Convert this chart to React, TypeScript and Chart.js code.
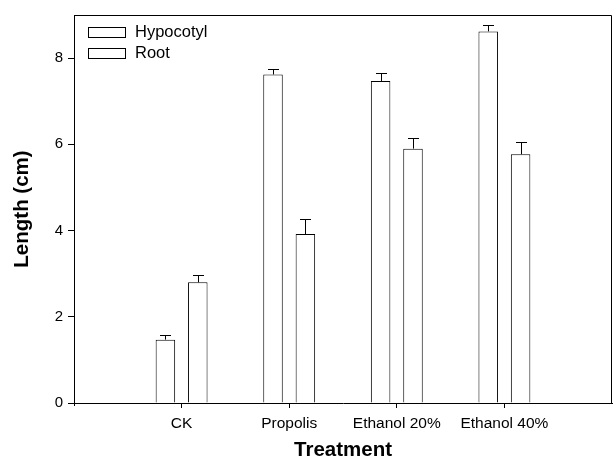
import React, { useEffect, useRef } from 'react';
import { Chart, registerables } from 'chart.js';

Chart.register(...registerables);

const categories = ['CK', 'Propolis', 'Ethanol 20%', 'Ethanol 40%'];
const seriesLabels = ['Hypocotyl', 'Root'];
const hypocotyl = [1.47, 7.62, 7.47, 8.62];
const hypocotylErr = [0.1, 0.12, 0.19, 0.15];
const root = [2.8, 3.92, 5.9, 5.77];
const rootErr = [0.18, 0.35, 0.25, 0.28];
const yTicks = [0, 2, 4, 6, 8];
const yMax = 9;

const FONT = 'Liberation Sans, Arial, Helvetica, sans-serif';

const pad = (arr: (number | null)[]) => [null, ...arr, null];

const frameAndErrors = {
  id: 'frameAndErrors',
  afterDatasetsDraw(chart: any) {
    const { ctx, scales } = chart;
    const y = scales.y;
    ctx.save();
    ctx.strokeStyle = '#000';
    ctx.lineWidth = 1;
    ctx.setLineDash([]);
    chart.data.datasets.forEach((ds: any, di: number) => {
      const meta = chart.getDatasetMeta(di);
      meta.data.forEach((el: any, i: number) => {
        const v = ds.data[i];
        const e = ds.errors[i];
        if (v == null || e == null) return;
        const x = Math.round(el.x) + 0.5;
        const yTop = Math.round(y.getPixelForValue(v + e)) + 0.5;
        const yBar = y.getPixelForValue(v);
        ctx.beginPath();
        ctx.moveTo(x, yBar);
        ctx.lineTo(x, yTop);
        ctx.moveTo(x - 5.5, yTop);
        ctx.lineTo(x + 5.5, yTop);
        ctx.stroke();
      });
    });
    ctx.restore();
  },
  afterDraw(chart: any) {
    const { ctx, chartArea, scales } = chart;
    const y = scales.y;
    ctx.save();
    ctx.setLineDash([]);
    ctx.lineCap = 'butt';
    ctx.lineJoin = 'miter';
    ctx.lineWidth = 1;
    ctx.strokeStyle = '#000';
    const l = Math.round(chartArea.left) + 0.5;
    const r = Math.round(chartArea.right) - 0.5;
    const t = Math.round(y.getPixelForValue(yMax)) + 0.5;
    const b = Math.round(y.getPixelForValue(0));
    // clear anything below the axis at the right end
    ctx.fillStyle = '#fff';
    ctx.fillRect(r - 3, b + 1, 20, 10);
    ctx.beginPath();
    ctx.moveTo(l, t);
    ctx.lineTo(r, t);
    ctx.lineTo(r, b);
    ctx.stroke();
    ctx.beginPath();
    ctx.moveTo(l, b);
    ctx.lineTo(l, b + 3);
    ctx.stroke();
    // legend
    ctx.font = `16.5px ${FONT}`;
    ctx.textBaseline = 'middle';
    ctx.textAlign = 'left';
    chart.data.datasets.forEach((ds: any, di: number) => {
      const bx = 88.5;
      const by = 27.5 + di * 21;
      ctx.fillStyle = '#fff';
      ctx.fillRect(bx, by, 37, 10);
      ctx.strokeStyle = '#000';
      ctx.strokeRect(bx, by, 37, 10);
      ctx.fillStyle = '#000';
      ctx.fillText(ds.label, 135, by + 5);
    });
    ctx.restore();
  },
};

export default function App() {
  const ref = useRef<HTMLCanvasElement | null>(null);
  useEffect(() => {
    if (!ref.current) return;
    const labels = ['', ...categories, ''];
    const chart = new Chart(ref.current, {
      type: 'bar',
      data: {
        labels,
        datasets: [
          {
            label: seriesLabels[0],
            data: pad(hypocotyl),
            errors: pad(hypocotylErr),
            backgroundColor: '#fff',
            borderColor: '#000',
            borderWidth: 1,
          } as any,
          {
            label: seriesLabels[1],
            data: pad(root),
            errors: pad(rootErr),
            backgroundColor: '#fff',
            borderColor: '#000',
            borderWidth: 1,
          } as any,
        ],
      },
      options: {
        responsive: false,
        animation: false,
        events: [],
        datasets: {
          bar: { categoryPercentage: 0.602, barPercentage: 0.602 },
        },
        layout: { padding: { top: 15, right: 2, left: 0, bottom: 0 } },
        plugins: {
          legend: { display: false },
          tooltip: { enabled: false },
        },
        scales: {
          x: {
            type: 'category',
            offset: false,
            grid: {
              offset: false,
              drawOnChartArea: false,
              drawTicks: true,
              tickLength: 5,
              color: '#000',
              tickColor: '#000',
            },
            border: { display: true, color: '#000', width: 1 },
            ticks: {
              color: '#000',
              font: { family: FONT, size: 15.5 },
              padding: 6,
              maxRotation: 0,
              autoSkip: false,
            },
            afterBuildTicks: (s: any) => {
              s.ticks = s.ticks.filter((t: any) => t.value >= 1 && t.value <= categories.length);
            },
            title: {
              display: true,
              text: 'Treatment',
              color: '#000',
              font: { family: FONT, size: 20.5, weight: 'bold' },
              padding: { top: 0, bottom: 5 },
            },
            afterFit: (s: any) => {
              s.height = 65;
              s.paddingLeft = 0;
              s.paddingRight = 0;
            },
          },
          y: {
            type: 'linear',
            min: 0,
            max: yMax,
            grid: {
              drawOnChartArea: false,
              drawTicks: true,
              tickLength: 6,
              color: '#000',
              tickColor: '#000',
            },
            border: { display: true, color: '#000', width: 1 },
            ticks: {
              color: '#000',
              font: { family: FONT, size: 15 },
              padding: 5,
            },
            afterBuildTicks: (s: any) => {
              s.ticks = yTicks.map((v) => ({ value: v }));
            },
            title: {
              display: true,
              text: 'Length (cm)',
              color: '#000',
              font: { family: FONT, size: 20.5, weight: 'bold' },
              padding: { top: 10, bottom: 0 },
            },
            afterFit: (s: any) => {
              s.width = 74;
            },
          },
        },
      } as any,
      plugins: [frameAndErrors],
    });
    return () => chart.destroy();
  }, []);
  return (
    <canvas
      ref={ref}
      width={614}
      height={468}
      style={{ position: 'absolute', left: 0, top: 0, display: 'block', width: 614, height: 468 }}
    />
  );
}
